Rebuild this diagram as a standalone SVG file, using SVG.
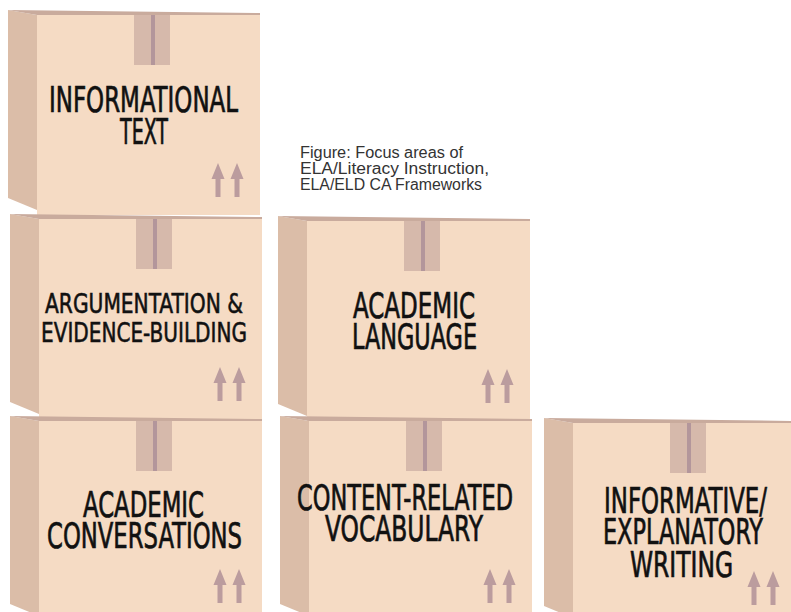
<svg xmlns="http://www.w3.org/2000/svg" xmlns:xlink="http://www.w3.org/1999/xlink" width="791" height="612" viewBox="0 0 791 612">
<style>
.front{fill:#f5dbc4}
.side{fill:#dbbda8}
.lid{fill:#c9ab9d}
.tape{fill:#d6b9ab}
.tapeline{fill:#b3969b}
.arrow{fill:#bb9c9e}
.lbl{font-family:"DejaVu Sans Condensed","Liberation Sans",sans-serif;font-size:35px;fill:#111;stroke:#111;stroke-width:0.7px;text-anchor:middle}
.lbl.small{font-size:27px;stroke-width:0.55px}
.cap{font-family:"Liberation Sans",Arial,sans-serif;font-size:16px;fill:#333}
</style>
<defs>
<g id="box">
<rect class="front" x="29" y="5" width="223" height="200"/>
<polygon class="side" points="0,0 29,5 29,200 0,188"/>
<polygon class="lid" points="0,0 252,3 252,5 29,5"/>
<rect class="tape" x="126" y="5" width="36" height="50"/>
<rect class="tapeline" x="143" y="5" width="4" height="50"/>
<path class="arrow" d="M210,153 L216.5,169 L212.5,169 L212.5,187 L207.5,187 L207.5,169 L203.5,169 Z"/>
<path class="arrow" d="M229,153 L235.5,169 L231.5,169 L231.5,187 L226.5,187 L226.5,169 L222.5,169 Z"/>
</g>
</defs>
<rect width="791" height="612" fill="#ffffff"/>
<g id="connectors"/>
<g id="node-informational-text">
<use xlink:href="#box" href="#box" transform="translate(8,10)"/>
<text class="lbl" transform="translate(143.5,112) scale(0.72,1)" textLength="262.5" lengthAdjust="spacingAndGlyphs">INFORMATIONAL</text>
<text class="lbl" transform="translate(144,144) scale(0.72,1)" textLength="66.7" lengthAdjust="spacingAndGlyphs">TEXT</text>
</g>
<g id="node-argumentation">
<use xlink:href="#box" href="#box" transform="translate(10,214)"/>
<text class="lbl small" transform="translate(144,313) scale(0.72,1)" textLength="275" lengthAdjust="spacingAndGlyphs">ARGUMENTATION &amp;</text>
<text class="lbl small" transform="translate(144,342) scale(0.72,1)" textLength="286.1" lengthAdjust="spacingAndGlyphs">EVIDENCE-BUILDING</text>
</g>
<g id="node-academic-language">
<use xlink:href="#box" href="#box" transform="translate(278,216)"/>
<text class="lbl" transform="translate(414,318) scale(0.72,1)" textLength="169.4" lengthAdjust="spacingAndGlyphs">ACADEMIC</text>
<text class="lbl" transform="translate(414.5,349) scale(0.72,1)" textLength="173.6" lengthAdjust="spacingAndGlyphs">LANGUAGE</text>
</g>
<g id="node-academic-conversations">
<use xlink:href="#box" href="#box" transform="translate(10,416)"/>
<text class="lbl" transform="translate(143.5,517) scale(0.72,1)" textLength="168.1" lengthAdjust="spacingAndGlyphs">ACADEMIC</text>
<text class="lbl" transform="translate(144.5,548) scale(0.72,1)" textLength="270.8" lengthAdjust="spacingAndGlyphs">CONVERSATIONS</text>
</g>
<g id="node-content-vocabulary">
<use xlink:href="#box" href="#box" transform="translate(280,416)"/>
<text class="lbl" transform="translate(405,510) scale(0.72,1)" textLength="300" lengthAdjust="spacingAndGlyphs">CONTENT-RELATED</text>
<text class="lbl" transform="translate(404,541) scale(0.72,1)" textLength="219.4" lengthAdjust="spacingAndGlyphs">VOCABULARY</text>
</g>
<g id="node-informative-writing">
<use xlink:href="#box" href="#box" transform="translate(544,418)"/>
<text class="lbl" transform="translate(685.5,513) scale(0.72,1)" textLength="226.4" lengthAdjust="spacingAndGlyphs">INFORMATIVE/</text>
<text class="lbl" transform="translate(683,544) scale(0.72,1)" textLength="222.2" lengthAdjust="spacingAndGlyphs">EXPLANATORY</text>
<text class="lbl" transform="translate(681.5,577) scale(0.72,1)" textLength="143.1" lengthAdjust="spacingAndGlyphs">WRITING</text>
</g>
<g id="caption">
<text class="cap" x="300" y="158" textLength="163" lengthAdjust="spacingAndGlyphs">Figure: Focus areas of</text>
<text class="cap" x="300" y="174" textLength="189" lengthAdjust="spacingAndGlyphs">ELA/Literacy Instruction,</text>
<text class="cap" x="300" y="190" textLength="182" lengthAdjust="spacingAndGlyphs">ELA/ELD CA Frameworks</text>
</g>
</svg>
